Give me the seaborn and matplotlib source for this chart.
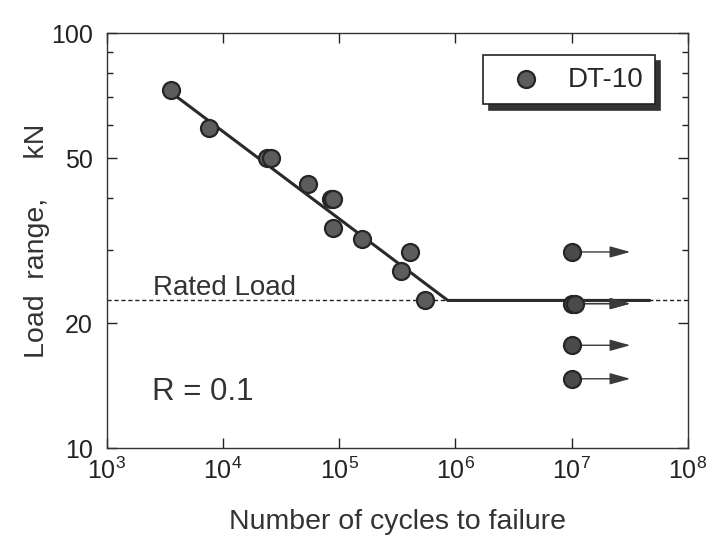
import numpy as np
import pandas as pd
import matplotlib
matplotlib.use("Agg")
import matplotlib.pyplot as plt
import seaborn as sns
from matplotlib.ticker import LogLocator, FixedLocator, NullFormatter, FixedFormatter

# Failure data (cycles, load range kN)
fail_cycles = [3560, 7550, 24000, 26000, 53700, 85000, 89000, 88000, 156000, 405000, 339000, 546000]
fail_load = [73.0, 59.0, 50.0, 50.0, 43.3, 39.8, 39.8, 33.9, 32.0, 29.7, 26.7, 22.7]

# Run-outs at 1e7 cycles
runout_cycles = [1.0e7, 1.0e7, 1.06e7, 1.0e7, 1.0e7]
runout_load = [29.7, 22.3, 22.3, 17.7, 14.7]
runout_arrow_end = 3.2e7

# Fitted S-N curve (sloped part then endurance limit)
fit_cycles = [3560, 860000, 4.7e7]
fit_load = [72.0, 22.7, 22.7]

rated_load = 22.7

sns.set_theme(style="ticks")
plt.rcParams['font.family'] = ['Liberation Sans', 'DejaVu Sans']
plt.rcParams['mathtext.default'] = 'regular'

fig = plt.figure(figsize=(7.21, 5.42), dpi=100)
ax = fig.add_axes([0.148, 0.173, 0.806, 0.766])
ax.set_xscale('log')
ax.set_yscale('log')
ax.set_xlim(1e3, 1e8)
ax.set_ylim(10, 100)

ax.axhline(rated_load, color='#222222', lw=1.0, ls=(0, (3, 2)), zorder=1)
ax.plot(fit_cycles, fit_load, color='#2a2a2a', lw=2.2, zorder=2)

df = pd.DataFrame({'N': fail_cycles, 'P': fail_load})
sns.scatterplot(data=df, x='N', y='P', ax=ax, s=150, color='#5c5c5c',
                edgecolor='#262626', linewidth=1.6, zorder=3, label='DT-10')

dr = pd.DataFrame({'N': runout_cycles, 'P': runout_load})
sns.scatterplot(data=dr, x='N', y='P', ax=ax, s=150, color='#4a4a4a',
                edgecolor='#262626', linewidth=1.6, zorder=3, legend=False)
for n, p in zip(runout_cycles, runout_load):
    ax.annotate('', xy=(runout_arrow_end, p), xytext=(1.0e7 * 1.2, p),
                arrowprops=dict(arrowstyle='-|>,head_length=0.9,head_width=0.25',
                                color='#3a3a3a', lw=1.0,
                                mutation_scale=14, shrinkA=0, shrinkB=0), zorder=2)

ax.text(2480, 23.4, 'Rated Load', fontsize=20, color='#333333', va='baseline')
ax.text(2440, 13.05, 'R = 0.1', fontsize=22.5, color='#333333', va='baseline')

ax.yaxis.set_major_locator(FixedLocator([10, 20, 50, 100]))
ax.yaxis.set_major_formatter(FixedFormatter(['10', '20', '50', '100']))
ax.yaxis.set_minor_locator(FixedLocator([30, 40, 60, 70, 80, 90]))
ax.yaxis.set_minor_formatter(NullFormatter())
ax.xaxis.set_major_locator(LogLocator(base=10, numticks=10))
ax.xaxis.set_minor_locator(FixedLocator([]))

ax.tick_params(which='both', direction='in', top=True, right=True, labelsize=18, colors='#222222')
ax.tick_params(which='major', length=7, width=1)
ax.tick_params(which='minor', length=4, width=1)
ax.tick_params(axis='x', pad=7)
ax.tick_params(axis='y', pad=10)
for s in ax.spines.values():
    s.set_linewidth(1.0)
    s.set_color('#333333')

ax.set_xlabel('Number of cycles to failure', fontsize=20.5, color='#333333', labelpad=18)
ax.set_ylabel('Load  range,     kN', fontsize=20.5, color='#333333', labelpad=1)

leg = ax.legend(loc='upper right', bbox_to_anchor=(0.943, 0.947), borderaxespad=0,
                fontsize=20, frameon=True, fancybox=False,
                shadow={'ox': 4, 'oy': -4, 'color': '#333333', 'alpha': 1.0},
                edgecolor='#222222', handletextpad=0.4, handlelength=2.2,
                borderpad=0.42, markerscale=1.0)
leg.get_frame().set_linewidth(1.2)
leg.get_frame().set_facecolor('white')
leg.get_frame().set_alpha(1.0)

fig.savefig('out.png', dpi=100, facecolor='white')
